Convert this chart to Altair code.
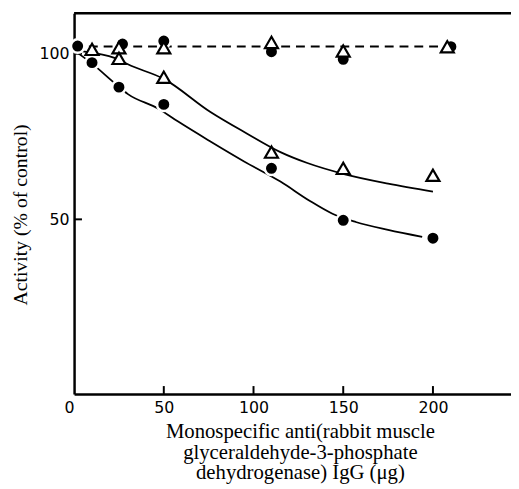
import altair as alt
import pandas as pd

# --- data ---
ctrl_circ_dose = [2, 27, 50, 110, 150, 210]
ctrl_circ_act = [102.3, 102.9, 103.8, 100.6, 98.3, 102.1]
ctrl_tri_dose = [25, 50, 110, 150, 208]
ctrl_tri_act = [101.8, 101.8, 103.4, 100.8, 102.1]

inh_circ_dose = [10, 25, 50, 110, 150, 200]
inh_circ_act = [97.3, 89.9, 84.7, 65.4, 49.7, 44.3]
inh_tri_dose = [10, 25, 50, 110, 150, 200]
inh_tri_act = [101.3, 98.6, 92.9, 70.3, 65.4, 63.3]

# fitted curves as drawn
upper_x = [0, 10, 25, 30, 50, 76, 96, 115, 130, 151, 175, 200]
upper_y = [101, 100.3, 98.2, 96.8, 92.4, 82.4, 76.0, 70.3, 67.0, 63.6, 60.8, 58.4]
lower_x = [0, 10, 22, 30, 47, 58, 76, 95, 115, 131, 144, 157, 175, 194]
lower_y = [101, 97.0, 91.4, 87.8, 83.4, 79.5, 73.5, 67.4, 61.4, 55.7, 51.7, 49.2, 46.8, 44.7]
dash_x = [0, 205]
dash_y = [102.2, 102.2]

x_ticks = [0, 50, 100, 150, 200]
y_ticks = [50, 100]

W, H = 443, 386
xs = alt.Scale(domain=[0, 243.5], nice=False, zero=False)
ys = alt.Scale(domain=[-2.7, 112.2], nice=False, zero=False)

def df(x, y):
    return pd.DataFrame({"x": x, "y": y})

x_title = ["Monospecific anti(rabbit muscle", "glyceraldehyde-3-phosphate", "dehydrogenase) IgG (\u03bcg)"]

xaxis = alt.Axis(
    values=x_ticks, title=x_title, ticks=False, domainWidth=2.5, domainColor="black",
    labelFont="DejaVu Sans", labelFontSize=16, labelColor="black", labelPadding=6,
    labelAlign={"condition": {"test": "datum.value == 0", "value": "right"}, "value": "center"},
    titleFont="Liberation Serif", titleFontSize=21, titleFontWeight="normal", titleColor="black",
    titleLineHeight=21, titleY=27, titleX=229, titleBaseline="top", grid=False)
yaxis = alt.Axis(
    values=y_ticks, title="Activity (% of control)", ticks=False, domainWidth=2.5, domainColor="black",
    labelFont="DejaVu Sans", labelFontSize=16, labelColor="black", labelPadding=5,
    titleFont="Liberation Serif", titleFontSize=20, titleFontWeight="normal", titleColor="black",
    titleX=-44, titleY=204, grid=False)

def X():
    return alt.X("x:Q", scale=xs, axis=xaxis)

def Y():
    return alt.Y("y:Q", scale=ys, axis=yaxis)

top_frame = alt.Chart(df([0], [0])).mark_rule(color="black", strokeWidth=2.5).encode(
    x=alt.value(0), x2=alt.value(W), y=alt.value(0))

xtick_rules = alt.Chart(pd.DataFrame({"x": x_ticks[1:]})).mark_rule(color="black", strokeWidth=2).encode(
    x=X(), y=alt.value(H), y2=alt.value(H - 8))
ytick_rules = alt.Chart(pd.DataFrame({"y": y_ticks})).mark_rule(color="black", strokeWidth=2).encode(
    y=Y(), x=alt.value(0), x2=alt.value(8))

dash = alt.Chart(df(dash_x, dash_y)).mark_line(color="black", strokeWidth=2, strokeDash=[9, 6]).encode(
    x=X(), y=Y())
upper = alt.Chart(df(upper_x, upper_y)).mark_line(color="black", strokeWidth=1.8, interpolate="monotone").encode(
    x=X(), y=Y())
lower = alt.Chart(df(lower_x, lower_y)).mark_line(color="black", strokeWidth=1.8, interpolate="monotone").encode(
    x=X(), y=Y())

circles = alt.Chart(pd.concat([df(ctrl_circ_dose, ctrl_circ_act), df(inh_circ_dose, inh_circ_act)])).mark_point(
    shape="circle", filled=True, fill="black", stroke="white", strokeWidth=2.5, size=185, opacity=1).encode(
    x=X(), y=Y())
triangles = alt.Chart(pd.concat([df(ctrl_tri_dose, ctrl_tri_act), df(inh_tri_dose, inh_tri_act)])).mark_point(
    shape="triangle-up", filled=True, fill="white", stroke="black", strokeWidth=2.2, size=175, opacity=1).encode(
    x=X(), y=Y())

chart = alt.layer(xtick_rules, ytick_rules, dash, upper, lower, circles, triangles, top_frame).properties(
    width=W, height=H, autosize="none",
    padding={"left": 67, "top": 2, "right": 0, "bottom": 91},
).configure_view(stroke=None).configure(background="white")

chart.save("out.html", embed_options={"renderer": "svg", "actions": False})
